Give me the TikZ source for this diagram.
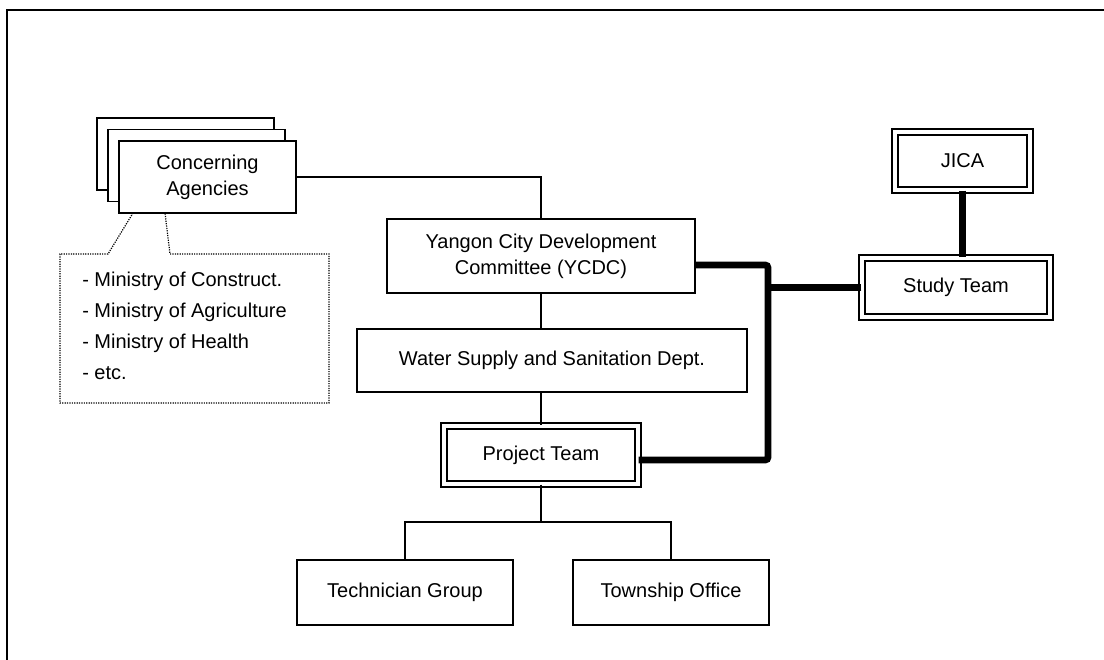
\documentclass[tikz,border=0pt]{standalone}
\usepackage{fontspec}
\setmainfont{Liberation Sans}
\begin{document}
\begin{tikzpicture}[x=0.75pt,y=-0.75pt,
  box/.style={draw, line width=1.1pt, fill=white, inner sep=0pt, align=center,
    font=\fontsize{15}{19.5}\selectfont},
  dbox/.style={box, double, double distance=3.5pt, line width=1pt},
  conn/.style={line width=1.1pt},
  thickconn/.style={line width=5pt, rounded corners=2pt},
  dotline/.style={line width=0.9pt, dash pattern=on 0.9pt off 0.9pt},
  frame/.style={line width=1pt}]
\useasboundingbox (0,0) rectangle (1104,660);
% frame
\coordinate (fbl) at (7,660);
\coordinate (ftl) at (7,10);
\coordinate (ftr) at (1104,10);
\draw[frame] (fbl) -- (ftl) -- (ftr);

% concerning agencies stack
\node[box, minimum width=132.75pt, minimum height=54pt] (caback) at (185.5,154) {};
\node[box, minimum width=132.75pt, minimum height=54pt] (camid) at (196.5,165.5) {};
\node[box, minimum width=132.75pt, minimum height=54pt] (ca) at (207.5,177) {Concerning\\Agencies};

% callout list
\coordinate (c1) at (133,213);
\coordinate (c2) at (108,254);
\coordinate (c3) at (60,254);
\coordinate (c4) at (60,403);
\coordinate (c5) at (329,403);
\coordinate (c6) at (329,254);
\coordinate (c7) at (170,254);
\coordinate (c8) at (165,213);
\draw[dotline] (c1) -- (c2) -- (c3) -- (c4) -- (c5) -- (c6) -- (c7) -- (c8);
\node[anchor=west, align=left, inner sep=0pt, font=\fontsize{15}{23.25}\selectfont] (list) at (82,326)
  {- Ministry of Construct.\\- Ministry of Agriculture\\- Ministry of Health\\- etc.};

% main column
\node[box, minimum width=231pt, minimum height=55.5pt] (ycdc) at (541,256) {Yangon City Development\\Committee (YCDC)};
\node[box, minimum width=292.5pt, minimum height=47.25pt] (ws) at (552,360.5) {Water Supply and Sanitation Dept.};
\node[dbox, minimum width=145.5pt, minimum height=43.5pt] (pteam) at (541,455) {Project Team};
\node[box, minimum width=162pt, minimum height=48.75pt] (tech) at (405,592.5) {Technician Group};
\node[box, minimum width=147pt, minimum height=48.75pt] (town) at (671,592.5) {Township Office};

% right side
\node[dbox, minimum width=101.25pt, minimum height=43.5pt] (jica) at (962.5,161) {JICA};
\node[dbox, minimum width=141pt, minimum height=44.25pt] (study) at (956,287.5) {Study Team};

% connectors
\draw[conn] (ca.east) -| (ycdc.north);
\draw[conn] (ycdc.south) -- (ycdc.south |- ws.north);
\draw[conn] (pteam.north |- ws.south) -- (pteam.north);
\coordinate (bus) at (541,522);
\draw[conn] (pteam.south) -- (bus);
\draw[conn] (tech.north) |- (bus) -| (town.north);

\coordinate (tk1) at (768,265);
\coordinate (tk2) at (768,460);
\draw[thickconn] (ycdc.east |- tk1) -- (tk1) -- (tk2) -- (pteam.east |- tk2);
\draw[thickconn] (study.west) -- (study.west -| tk1);
\draw[thickconn] (jica.south) -- (jica.south |- study.north);
\end{tikzpicture}
\end{document}
